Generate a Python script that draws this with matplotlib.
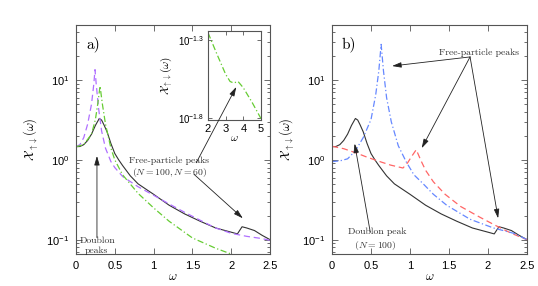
import numpy as np
import matplotlib
matplotlib.use("Agg")
import matplotlib.pyplot as plt
from matplotlib.ticker import FixedLocator, NullLocator, LogLocator, FixedFormatter

plt.rcParams['font.family'] = ['Liberation Sans', 'DejaVu Sans']
plt.rcParams['mathtext.fontset'] = 'custom'
plt.rcParams['mathtext.rm'] = 'Liberation Sans'
plt.rcParams['mathtext.it'] = 'Liberation Sans:italic'
plt.rcParams['mathtext.cal'] = 'cmsy10'

# Daten
# N = 100, schwarz (beide Panels)
w_black = [0, 0.05, 0.1, 0.15, 0.2, 0.25, 0.3, 0.33, 0.36, 0.4, 0.45, 0.5, 0.55, 0.6, 0.7,
           0.8, 0.9, 1.0, 1.2, 1.4, 1.6, 1.8, 2.0, 2.08, 2.14, 2.2, 2.3, 2.4, 2.5]
chi_black = [1.46, 1.47, 1.55, 1.75, 2.1, 2.7, 3.3, 3.15, 2.75, 2.25, 1.6, 1.2, 1.0, 0.85, 0.63,
             0.5, 0.43, 0.37, 0.27, 0.21, 0.17, 0.14, 0.124, 0.118, 0.145, 0.14, 0.13, 0.113, 0.1]

# Panel a) violett gestrichelt
w_purple = [0, 0.05, 0.1, 0.15, 0.2, 0.23, 0.245, 0.26, 0.29, 0.33, 0.38, 0.45, 0.5, 0.6,
            0.8, 1.0, 1.2, 1.4, 1.6, 1.8, 2.0, 2.2, 2.4, 2.5]
chi_purple = [1.46, 1.55, 1.9, 2.8, 5.0, 9.0, 13.5, 9.0, 4.5, 2.3, 1.4, 0.95, 0.8, 0.62,
              0.46, 0.36, 0.28, 0.22, 0.175, 0.14, 0.12, 0.11, 0.103, 0.098]

# Panel a) grün strichpunkt
w_green = [0, 0.1, 0.2, 0.25, 0.28, 0.31, 0.34, 0.38, 0.45, 0.5, 0.6, 0.8, 1.0, 1.2, 1.5,
           1.8, 2.0, 2.2, 2.5]
chi_green = [1.46, 1.55, 2.1, 3.2, 5.0, 8.4, 5.0, 2.8, 1.4, 1.0, 0.65, 0.38, 0.25, 0.17, 0.105,
             0.078, 0.066, 0.057, 0.045]

# Inset (grün, omega 2..5)
w_inset = [2.0, 2.5, 3.0, 3.25, 3.45, 3.7, 4.0, 4.5, 5.0]
chi_inset = [0.0555, 0.0407, 0.0302, 0.0272, 0.0266, 0.0272, 0.0248, 0.020, 0.0158]

# Panel b) rot gestrichelt
w_red = [0, 0.15, 0.3, 0.45, 0.6, 0.75, 0.91, 0.97, 1.02, 1.08, 1.14, 1.2, 1.3, 1.45, 1.65,
         1.9, 2.1, 2.3, 2.5]
chi_red = [1.48, 1.38, 1.23, 1.08, 0.96, 0.86, 0.79, 0.92, 1.1, 1.34, 0.98, 0.74, 0.53, 0.37, 0.26,
           0.19, 0.15, 0.12, 0.1]

# Panel b) blau strichpunkt
w_blue = [0, 0.1, 0.2, 0.3, 0.4, 0.5, 0.56, 0.6, 0.63, 0.66, 0.7, 0.76, 0.85, 0.95, 1.05, 1.17,
          1.3, 1.47, 1.77, 2.07, 2.33, 2.5]
chi_blue = [0.95, 0.97, 1.03, 1.3, 1.9, 3.2, 6.5, 13.0, 28.0, 13.0, 6.0, 3.0, 1.5, 0.95, 0.65, 0.5,
            0.37, 0.27, 0.18, 0.14, 0.12, 0.1]

YLIM = (10**-1.18, 10**1.69)
AX_COL = '#555555'
TXT_COL = '#333333'
ylab = r'$\mathcal{X}_{\uparrow\downarrow}(\omega)$'


def style_axis(ax):
    ax.set_yscale('log')
    ax.set_xlim(0, 2.5)
    ax.set_ylim(*YLIM)
    ax.set_xticks([0, 0.5, 1, 1.5, 2, 2.5])
    ax.set_xticklabels(['0', '0.5', '1', '1.5', '2', '2.5'])
    ax.yaxis.set_major_locator(FixedLocator([0.1, 1, 10]))
    ax.yaxis.set_major_formatter(FixedFormatter([r'$10^{-1}$', r'$10^{0}$', r'$10^{1}$']))
    ax.yaxis.set_minor_locator(LogLocator(base=10, subs=np.arange(2, 10)))
    ax.tick_params(which='both', direction='in', top=True, right=True, colors=AX_COL,
                   labelcolor='black', labelsize=8, width=0.6)
    ax.tick_params(which='major', length=4, pad=5)
    ax.tick_params(which='minor', length=2)
    for s in ax.spines.values():
        s.set_color(AX_COL)
        s.set_linewidth(0.8)
    ax.set_xlabel(r'$\omega$', fontsize=9, labelpad=0, math_fontfamily='cm')
    ax.set_ylabel(ylab, fontsize=9, math_fontfamily='cm')
    ax.yaxis.set_label_coords(-0.18, 0.5)


fig = plt.figure(figsize=(5.38, 2.86), dpi=100)
ax1 = fig.add_axes([76/538, 32/286, 194/538, 229/286])
ax2 = fig.add_axes([332/538, 32/286, 195/538, 229/286])
axi = fig.add_axes([208/538, 166/286, 53/538, 89/286])

# Panel a)
style_axis(ax1)
ax1.plot(w_black, chi_black, color='#333333', lw=0.8)
ax1.plot(w_purple, chi_purple, color='#b070ff', lw=0.9, ls=(0, (5, 3)))
ax1.plot(w_green, chi_green, color='#66cc33', lw=0.9, ls=(0, (5, 2, 1, 2)))
ax1.text(0.055, 0.95, 'a)', transform=ax1.transAxes, fontsize=11, family='cmr10', va='top')

arr = dict(arrowstyle='-|>,head_length=0.55,head_width=0.16', color='#222222', lw=0.6,
           shrinkA=0, shrinkB=0, mutation_scale=10)
ann = dict(fontsize=7, family='cmr10', color=TXT_COL, math_fontfamily='cm')

ax1.text(0.27, 0.084, 'Doublon\npeaks', ha='center', va='center', linespacing=1.3, **ann)
ax1.annotate('', xy=(0.27, 1.12), xytext=(0.27, 0.106), arrowprops=arr)
ax1.text(1.2, 0.8, 'Free-particle peaks\n($N = 100, N = 60$)', ha='center', va='center',
         linespacing=1.1, **ann)
ax1.annotate('', xy=(2.15, 0.185), xytext=(1.52, 0.66), arrowprops=arr)

# Inset
axi.plot(w_inset, chi_inset, color='#66cc33', lw=0.9, ls=(0, (5, 2, 1, 2)))
axi.set_yscale('log')
axi.set_xlim(2, 5)
axi.set_ylim(10**-1.81, 10**-1.245)
axi.set_xticks([2, 3, 4, 5])
axi.yaxis.set_major_locator(FixedLocator([10**-1.8, 10**-1.3]))
axi.yaxis.set_major_formatter(FixedFormatter([r'$10^{-1.8}$', r'$10^{-1.3}$']))
axi.yaxis.set_minor_locator(NullLocator())
axi.tick_params(which='both', direction='in', top=True, right=True, colors=AX_COL,
                labelcolor='black', labelsize=8, length=3, width=0.6, pad=3)
axi.tick_params(axis='y', labelsize=7)
for s in axi.spines.values():
    s.set_color(AX_COL)
    s.set_linewidth(0.8)
axi.set_xlabel(r'$\omega$', fontsize=8, labelpad=-1, math_fontfamily='cm')
axi.set_ylabel(ylab, fontsize=8, math_fontfamily='cm')
axi.yaxis.set_label_coords(-0.62, 0.5)
axi.annotate('', xy=(3.6, 10**-1.6), xytext=(1.55, 0.92), textcoords=ax1.transData,
             arrowprops=arr, annotation_clip=False)

# Panel b)
style_axis(ax2)
ax2.plot(w_black, chi_black, color='#333333', lw=0.8)
ax2.plot(w_red, chi_red, color='#ff6666', lw=0.9, ls=(0, (5, 3)))
ax2.plot(w_blue, chi_blue, color='#6688ff', lw=0.9, ls=(0, (5, 2, 1, 2)))
ax2.text(0.05, 0.95, 'b)', transform=ax2.transAxes, fontsize=11, family='cmr10', va='top')

ax2.text(1.88, 22, 'Free-particle peaks', ha='center', va='center', **ann)
src = (1.77, 19.5)
ax2.annotate('', xy=(0.77, 15), xytext=src, arrowprops=arr)
ax2.annotate('', xy=(1.15, 1.4), xytext=src, arrowprops=arr)
ax2.annotate('', xy=(2.13, 0.185), xytext=src, arrowprops=arr)

ax2.text(0.2, 0.1, 'Doublon peak\n  ($N = 100$)', ha='left', va='center', linespacing=1.3, **ann)
ax2.annotate('', xy=(0.29, 1.6), xytext=(0.49, 0.125), arrowprops=arr)

fig.savefig('out.png', dpi=100)
